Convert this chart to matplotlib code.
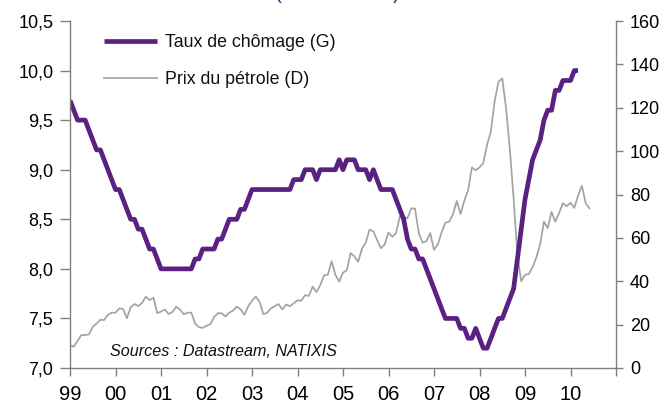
import matplotlib
matplotlib.use("Agg")
import matplotlib.pyplot as plt
import numpy as np
from matplotlib.ticker import FixedLocator, FuncFormatter

plt.rcParams['font.family'] = ['Liberation Sans', 'DejaVu Sans']

# Monthly unemployment rate (%), Jan 1999 .. Mar 2010
unemployment = [
    9.7, 9.6, 9.5, 9.5, 9.5, 9.4, 9.3, 9.2, 9.2, 9.1, 9.0, 8.9,   # 1999
    8.8, 8.8, 8.7, 8.6, 8.5, 8.5, 8.4, 8.4, 8.3, 8.2, 8.2, 8.1,   # 2000
    8.0, 8.0, 8.0, 8.0, 8.0, 8.0, 8.0, 8.0, 8.0, 8.1, 8.1, 8.2,   # 2001
    8.2, 8.2, 8.2, 8.3, 8.3, 8.4, 8.5, 8.5, 8.5, 8.6, 8.6, 8.7,   # 2002
    8.8, 8.8, 8.8, 8.8, 8.8, 8.8, 8.8, 8.8, 8.8, 8.8, 8.8, 8.9,   # 2003
    8.9, 8.9, 9.0, 9.0, 9.0, 8.9, 9.0, 9.0, 9.0, 9.0, 9.0, 9.1,   # 2004
    9.0, 9.1, 9.1, 9.1, 9.0, 9.0, 9.0, 8.9, 9.0, 8.9, 8.8, 8.8,   # 2005
    8.8, 8.8, 8.7, 8.6, 8.5, 8.3, 8.2, 8.2, 8.1, 8.1, 8.0, 7.9,   # 2006
    7.8, 7.7, 7.6, 7.5, 7.5, 7.5, 7.5, 7.4, 7.4, 7.3, 7.3, 7.4,   # 2007
    7.3, 7.2, 7.2, 7.3, 7.4, 7.5, 7.5, 7.6, 7.7, 7.8, 8.1, 8.4,   # 2008
    8.7, 8.9, 9.1, 9.2, 9.3, 9.5, 9.6, 9.6, 9.8, 9.8, 9.9, 9.9,   # 2009
    9.9, 10.0, 10.0,                                              # 2010
]

# Monthly oil price (USD/bbl), Jan 1999 .. Jun 2010
oil = [
    10.6, 9.8, 12.5, 15.2, 15.2, 15.5, 19.0, 20.5, 22.2, 22.1, 24.5, 25.5,   # 1999
    25.5, 27.5, 27.2, 22.9, 28.0, 29.5, 28.6, 30.0, 32.9, 31.3, 32.5, 25.3,  # 2000
    26.0, 27.0, 24.9, 25.8, 28.3, 27.0, 24.8, 25.5, 25.5, 20.5, 18.8, 18.5,  # 2001
    19.5, 20.2, 23.5, 25.3, 25.2, 23.8, 25.5, 26.5, 28.3, 27.0, 24.5, 28.5,  # 2002
    31.0, 32.9, 30.5, 24.8, 25.5, 27.5, 28.5, 29.5, 27.0, 29.3, 28.5, 29.8,  # 2003
    31.2, 31.0, 33.6, 33.2, 37.5, 35.0, 38.2, 42.7, 43.0, 49.2, 43.0, 39.8,  # 2004
    44.0, 45.0, 53.0, 51.5, 49.0, 55.0, 57.8, 63.8, 63.0, 59.0, 55.2, 57.0,  # 2005
    62.5, 60.5, 62.2, 70.0, 69.8, 69.0, 73.6, 73.5, 62.0, 57.8, 58.5, 62.2,  # 2006
    54.5, 57.0, 62.5, 67.0, 67.5, 70.8, 77.0, 71.0, 77.2, 82.0, 92.5, 91.2,  # 2007
    92.5, 94.5, 103.0, 109.0, 123.0, 132.0, 133.5, 120.0, 101.0, 78.0, 52.0, 40.0,  # 2008
    43.0, 43.3, 46.5, 51.0, 57.0, 67.5, 64.5, 72.0, 67.5, 71.5, 76.0, 74.6,  # 2009
    76.2, 73.8, 79.5, 84.0, 76.0, 73.6,                                      # 2010
]

start_year = 1999
year_ticks = list(range(1999, 2012))
year_labels = ["99", "00", "01", "02", "03", "04", "05", "06", "07", "08", "09", "10", ""]
left_ticks = [7.0, 7.5, 8.0, 8.5, 9.0, 9.5, 10.0, 10.5]
right_ticks = [0, 20, 40, 60, 80, 100, 120, 140, 160]

label_unemp = "Taux de chômage (G)"
label_oil = "Prix du pétrole (D)"
source_text = "Sources : Datastream, NATIXIS"

purple = "#5A2182"
grey = "#A3A3A3"
axis_grey = "#808080"

t_unemp = start_year + np.arange(len(unemployment)) / 12.0
t_oil = start_year + np.arange(len(oil)) / 12.0

W, H = 669, 408
fig = plt.figure(figsize=(W / 100, H / 100), dpi=100)
ax = fig.add_axes([70 / W, 40 / H, 546 / W, 347 / H])
ax2 = ax.twinx()

ln_oil, = ax2.plot(t_oil, oil, color=grey, lw=1.25, solid_joinstyle='round')
ln_un, = ax.plot(t_unemp, unemployment, color=purple, lw=3.4,
                 solid_joinstyle='round', solid_capstyle='butt')

ax.set_zorder(ax2.get_zorder() + 1)
ax.patch.set_visible(False)

ax.set_xlim(1999, 2011)
ax.set_ylim(7.0, 10.5)
ax2.set_ylim(0, 160)

ax.xaxis.set_major_locator(FixedLocator(year_ticks))
ax.set_xticklabels(year_labels)
ax.yaxis.set_major_locator(FixedLocator(left_ticks))
ax.yaxis.set_major_formatter(FuncFormatter(lambda v, p: f"{v:.1f}".replace(".", ",")))
ax2.yaxis.set_major_locator(FixedLocator(right_ticks))

for a in (ax, ax2):
    a.spines['top'].set_visible(False)
    for s in a.spines.values():
        s.set_color(axis_grey)
        s.set_linewidth(1.0)
ax.spines['right'].set_visible(False)
ax2.spines['left'].set_visible(False)
ax2.spines['bottom'].set_visible(False)

ax.tick_params(axis='y', direction='out', length=7, width=1, color=axis_grey,
               labelsize=13, pad=5)
ax.tick_params(axis='x', direction='out', length=6, width=1, color=axis_grey,
               labelsize=14.5, pad=6)
ax2.tick_params(axis='y', direction='out', length=5, width=1, color=axis_grey,
                labelsize=13, pad=5)

leg = ax.legend([ln_un, ln_oil], [label_unemp, label_oil], loc='upper left',
                bbox_to_anchor=(104 / W, 1 - 34 / H), bbox_transform=fig.transFigure,
                frameon=False, fontsize=12.8, handlelength=3.0, handletextpad=0.45,
                labelspacing=1.12, borderpad=0, borderaxespad=0)
for txt in leg.get_texts():
    txt.set_color("#111111")

fig.text(110 / W, 1 - 352 / H, source_text, style='italic', fontsize=11.6,
         va='center', ha='left', color="#111111")

# Title, cut off by the top edge of the picture (only the bottoms of the brackets show)
fig.text(278 / W, 1.0 + 1 / H, "(", color=purple, fontsize=15, va='baseline', ha='center')
fig.text(396 / W, 1.0 + 1 / H, ")", color=purple, fontsize=15, va='baseline', ha='center')

fig.savefig("out.png", dpi=100)
